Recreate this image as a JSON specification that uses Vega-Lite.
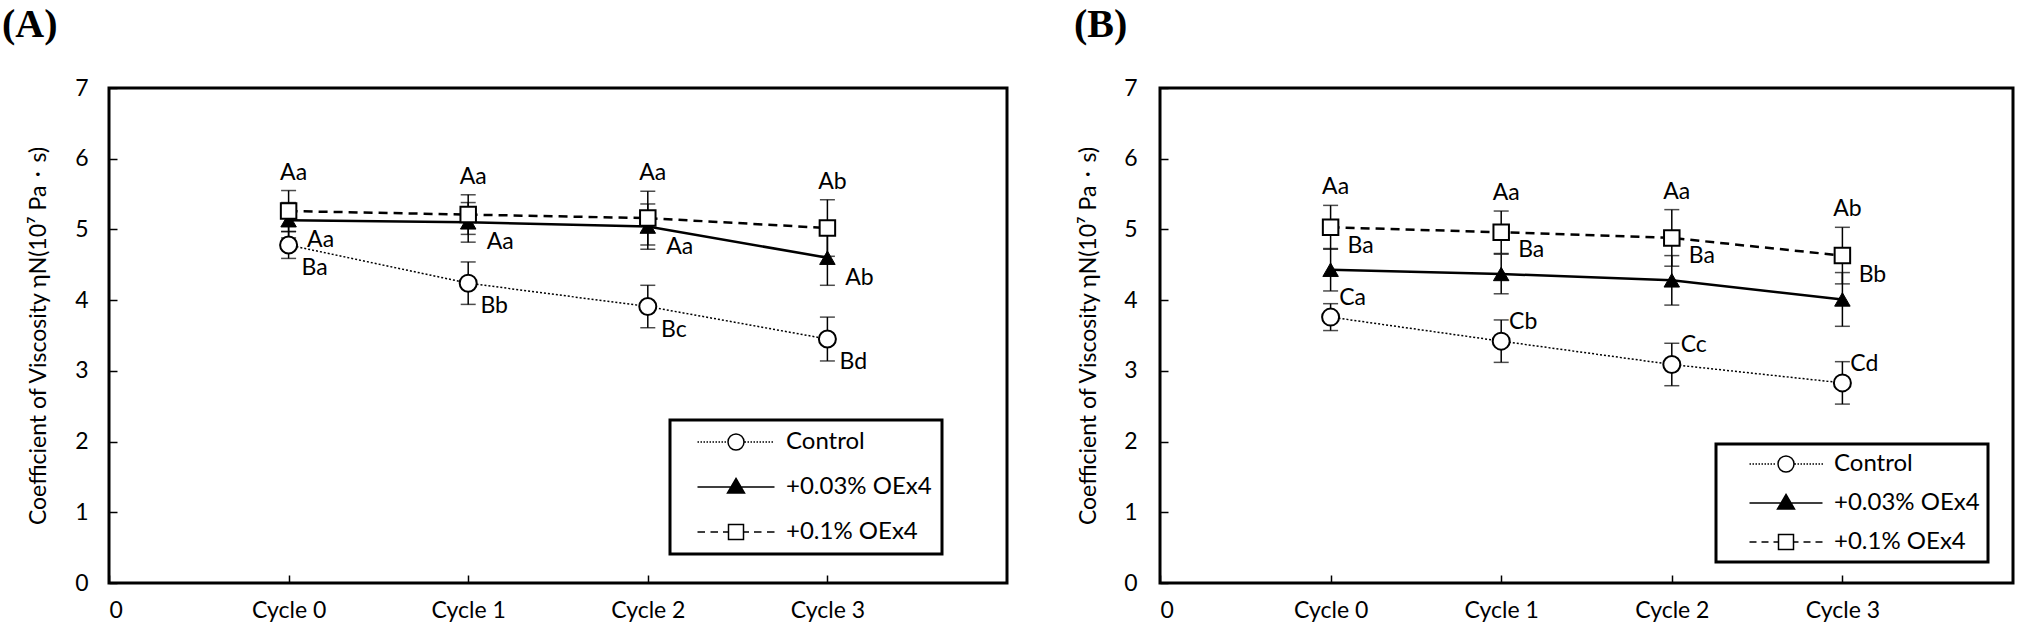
{
  "$schema": "https://vega.github.io/schema/vega-lite/v6.json",
  "autosize": {"type": "pad"},
  "padding": {"top": 3, "left": 0, "right": 0, "bottom": 0},
  "background": "white",
  "spacing": 63,
  "resolve": {"scale": {"shape": "independent", "fill": "independent", "stroke": "independent"}, "legend": {"shape": "independent", "fill": "independent", "stroke": "independent"}},
  "config": {
    "view": {"stroke": "black", "strokeWidth": 3},
    "axis": {"labelFont": "Lato", "labelFontSize": 23, "labelColor": "black", "titleFont": "Lato", "titleFontSize": 23, "titleColor": "black", "titleFontWeight": "normal", "grid": false, "domain": false},
    "legend": {"symbolStrokeColor": "black", "symbolStrokeWidth": 1.5, "strokeWidth": 3, "strokeColor": "black"}
  },
  "datasets": {
    "A": [
      {"cycle": 0, "series": "Control", "mean": 4.78, "lo": 4.59, "hi": 4.97, "label": "Ba"},
      {"cycle": 1, "series": "Control", "mean": 4.24, "lo": 3.94, "hi": 4.54, "label": "Bb"},
      {"cycle": 2, "series": "Control", "mean": 3.91, "lo": 3.61, "hi": 4.21, "label": "Bc"},
      {"cycle": 3, "series": "Control", "mean": 3.45, "lo": 3.14, "hi": 3.76, "label": "Bd"},
      {"cycle": 0, "series": "+0.03% OEx4", "mean": 5.13, "lo": 4.88, "hi": 5.38, "label": "Aa"},
      {"cycle": 1, "series": "+0.03% OEx4", "mean": 5.10, "lo": 4.82, "hi": 5.38, "label": "Aa"},
      {"cycle": 2, "series": "+0.03% OEx4", "mean": 5.04, "lo": 4.72, "hi": 5.36, "label": "Aa"},
      {"cycle": 3, "series": "+0.03% OEx4", "mean": 4.60, "lo": 4.21, "hi": 4.99, "label": "Ab"},
      {"cycle": 0, "series": "+0.1% OEx4", "mean": 5.26, "lo": 4.97, "hi": 5.55, "label": "Aa"},
      {"cycle": 1, "series": "+0.1% OEx4", "mean": 5.21, "lo": 4.93, "hi": 5.49, "label": "Aa"},
      {"cycle": 2, "series": "+0.1% OEx4", "mean": 5.16, "lo": 4.78, "hi": 5.54, "label": "Aa"},
      {"cycle": 3, "series": "+0.1% OEx4", "mean": 5.02, "lo": 4.62, "hi": 5.42, "label": "Ab"}
    ],
    "B": [
      {"cycle": 0, "series": "Control", "mean": 3.76, "lo": 3.57, "hi": 3.95, "label": "Ca"},
      {"cycle": 1, "series": "Control", "mean": 3.42, "lo": 3.12, "hi": 3.72, "label": "Cb"},
      {"cycle": 2, "series": "Control", "mean": 3.09, "lo": 2.79, "hi": 3.39, "label": "Cc"},
      {"cycle": 3, "series": "Control", "mean": 2.83, "lo": 2.53, "hi": 3.13, "label": "Cd"},
      {"cycle": 0, "series": "+0.03% OEx4", "mean": 4.43, "lo": 4.13, "hi": 4.73, "label": "Ba"},
      {"cycle": 1, "series": "+0.03% OEx4", "mean": 4.37, "lo": 4.09, "hi": 4.65, "label": "Ba"},
      {"cycle": 2, "series": "+0.03% OEx4", "mean": 4.28, "lo": 3.93, "hi": 4.63, "label": "Ba"},
      {"cycle": 3, "series": "+0.03% OEx4", "mean": 4.01, "lo": 3.63, "hi": 4.39, "label": "Bb"},
      {"cycle": 0, "series": "+0.1% OEx4", "mean": 5.03, "lo": 4.72, "hi": 5.34, "label": "Aa"},
      {"cycle": 1, "series": "+0.1% OEx4", "mean": 4.96, "lo": 4.66, "hi": 5.26, "label": "Aa"},
      {"cycle": 2, "series": "+0.1% OEx4", "mean": 4.88, "lo": 4.48, "hi": 5.28, "label": "Aa"},
      {"cycle": 3, "series": "+0.1% OEx4", "mean": 4.63, "lo": 4.23, "hi": 5.03, "label": "Ab"}
    ]
  },
  "hconcat": [
    {
      "width": 898,
      "height": 495,
      "title": {"text": "(A)", "font": "Liberation Serif", "fontSize": 40, "fontWeight": "bold", "color": "black", "anchor": "start", "frame": "group", "dx": -107, "baseline": "top", "offset": 32},
      "data": {"name": "A"},
      "encoding": {
        "x": {"field": "cycle", "type": "quantitative", "scale": {"domain": [-1, 4], "nice": false, "zero": false},
          "axis": {"values": [-1, 0, 1, 2, 3], "labelExpr": "datum.value < 0 ? '0' : 'Cycle ' + datum.value", "title": null, "ticks": true, "tickSize": -8, "tickColor": "black", "tickWidth": 1.5, "labelPadding": 24}},
        "y": {"field": "mean", "type": "quantitative", "scale": {"domain": [0, 7], "nice": false},
          "axis": {"values": [0, 1, 2, 3, 4, 5, 6, 7], "ticks": true, "tickSize": -8, "tickColor": "black", "tickWidth": 1.5, "labelPadding": 29, "title": "Coefficient of Viscosity ηN(10⁷ Pa・s)", "titlePadding": 24}}
      },
      "layer": [
        {"mark": {"type": "rule", "color": "black", "strokeWidth": 1.5}, "encoding": {"y": {"field": "lo", "type": "quantitative"}, "y2": {"field": "hi"}}},
        {"mark": {"type": "tick", "orient": "horizontal", "size": 15, "thickness": 1.5, "color": "black"}, "encoding": {"y": {"field": "lo", "type": "quantitative"}}},
        {"mark": {"type": "tick", "orient": "horizontal", "size": 15, "thickness": 1.5, "color": "black"}, "encoding": {"y": {"field": "hi", "type": "quantitative"}}},
        {"transform": [{"filter": {"field": "series", "equal": "Control"}}], "mark": {"type": "line", "color": "black", "strokeWidth": 1.5, "strokeDash": [2, 2]}},
        {"transform": [{"filter": {"field": "series", "equal": "+0.03% OEx4"}}], "mark": {"type": "line", "color": "black", "strokeWidth": 2.5}},
        {"transform": [{"filter": {"field": "series", "equal": "+0.1% OEx4"}}], "mark": {"type": "line", "color": "black", "strokeWidth": 2.5, "strokeDash": [9, 6]}},
        {"transform": [{"filter": {"field": "series", "equal": "Control"}}], "mark": {"type": "point", "shape": "circle", "filled": true, "fill": "white", "stroke": "black", "strokeWidth": 2, "size": 289, "opacity": 1}},
        {"transform": [{"filter": {"field": "series", "equal": "+0.03% OEx4"}}], "mark": {"type": "point", "shape": "triangle-up", "filled": true, "fill": "black", "stroke": "black", "strokeWidth": 1, "size": 240, "opacity": 1}},
        {"transform": [{"filter": {"field": "series", "equal": "+0.1% OEx4"}}], "mark": {"type": "point", "shape": "square", "filled": true, "fill": "white", "stroke": "black", "strokeWidth": 2, "size": 240, "opacity": 1}},
        {"transform": [{"filter": {"field": "series", "equal": "Control"}}], "mark": {"type": "text", "font": "Lato", "fontSize": 23, "color": "black", "align": "center", "baseline": "middle", "dx": 26, "dy": 23}, "encoding": {"text": {"field": "label"}}},
        {"transform": [{"filter": {"field": "series", "equal": "+0.03% OEx4"}}], "mark": {"type": "text", "font": "Lato", "fontSize": 23, "color": "black", "align": "center", "baseline": "middle", "dx": 32, "dy": 20}, "encoding": {"text": {"field": "label"}}},
        {"transform": [{"filter": {"field": "series", "equal": "+0.1% OEx4"}}], "mark": {"type": "text", "font": "Lato", "fontSize": 23, "color": "black", "align": "center", "baseline": "middle", "dx": 5, "dy": -18}, "encoding": {"y": {"field": "hi", "type": "quantitative"}, "text": {"field": "label"}}},
        {"transform": [{"filter": {"field": "series", "equal": "__none__"}}],
          "mark": {"type": "point", "filled": true, "strokeWidth": 1.5, "opacity": 1},
          "encoding": {
            "shape": {"field": "series", "type": "nominal",
              "scale": {"domain": ["Control", "+0.03% OEx4", "+0.1% OEx4"],
                "range": [
                  "M-3.85,0h0.15M-3.55,0h0.15M-3.25,0h0.15M-2.95,0h0.15M-2.65,0h0.15M-2.35,0h0.15M-2.05,0h0.15M-1.75,0h0.15M-1.45,0h0.15M-1.15,0h0.15M0.85,0h0.15M1.15,0h0.15M1.45,0h0.15M1.75,0h0.15M2.05,0h0.15M2.35,0h0.15M2.65,0h0.15M2.95,0h0.15M3.25,0h0.15M3.55,0h0.15M0.8,0A0.8,0.8,0,1,1,-0.8,0A0.8,0.8,0,1,1,0.8,0Z",
                  "M-3.85,0H3.85M0,-0.85L0.85,0.6L-0.85,0.6Z",
                  "M-3.85,0H-3.1M-2.55,0H-1.8M-1.3,0H-0.75M0.75,0H1.3M1.8,0H2.55M3.1,0H3.85M-0.75,-0.75H0.75V0.75H-0.75Z"
                ]},
              "legend": {"title": null, "orient": "none", "legendX": 561, "legendY": 332, "symbolSize": 400, "symbolOffset": 44, "symbolStrokeWidth": 1.5, "symbolStrokeColor": "black", "labelFont": "Lato", "labelFontSize": 24, "labelColor": "black", "labelOffset": 38, "padding": 10, "rowPadding": 21, "strokeColor": "black", "fillColor": "white", "encode": {"legend": {"strokeWidth": {"value": 3}}, "symbols": {"stroke": {"value": "black"}, "strokeWidth": {"value": 1.5}}}}},
            "fill": {"field": "series", "type": "nominal",
              "scale": {"domain": ["Control", "+0.03% OEx4", "+0.1% OEx4"], "range": ["white", "black", "white"]},
              "legend": {"title": null, "orient": "none", "legendX": 561, "legendY": 332, "symbolSize": 400, "symbolOffset": 44, "symbolStrokeWidth": 1.5, "symbolStrokeColor": "black", "labelFont": "Lato", "labelFontSize": 24, "labelColor": "black", "labelOffset": 38, "padding": 10, "rowPadding": 21, "strokeColor": "black", "fillColor": "white", "encode": {"legend": {"strokeWidth": {"value": 3}}, "symbols": {"stroke": {"value": "black"}, "strokeWidth": {"value": 1.5}}}}},
            "stroke": {"field": "series", "type": "nominal",
              "scale": {"domain": ["Control", "+0.03% OEx4", "+0.1% OEx4"], "range": ["black", "black", "black"]},
              "legend": {"title": null, "orient": "none", "legendX": 561, "legendY": 332, "symbolSize": 400, "symbolOffset": 44, "symbolStrokeWidth": 1.5, "symbolStrokeColor": "black", "labelFont": "Lato", "labelFontSize": 24, "labelColor": "black", "labelOffset": 38, "padding": 10, "rowPadding": 21, "strokeColor": "black", "fillColor": "white", "encode": {"legend": {"strokeWidth": {"value": 3}}, "symbols": {"stroke": {"value": "black"}, "strokeWidth": {"value": 1.5}}}}}
          }}
      ]
    },
    {
      "width": 853,
      "height": 495,
      "title": {"text": "(B)", "font": "Liberation Serif", "fontSize": 40, "fontWeight": "bold", "color": "black", "anchor": "start", "frame": "group", "dx": -86, "baseline": "top", "offset": 32},
      "data": {"name": "B"},
      "encoding": {
        "x": {"field": "cycle", "type": "quantitative", "scale": {"domain": [-1, 4], "nice": false, "zero": false},
          "axis": {"values": [-1, 0, 1, 2, 3], "labelExpr": "datum.value < 0 ? '0' : 'Cycle ' + datum.value", "title": null, "ticks": true, "tickSize": -8, "tickColor": "black", "tickWidth": 1.5, "labelPadding": 24}},
        "y": {"field": "mean", "type": "quantitative", "scale": {"domain": [0, 7], "nice": false},
          "axis": {"values": [0, 1, 2, 3, 4, 5, 6, 7], "ticks": true, "tickSize": -8, "tickColor": "black", "tickWidth": 1.5, "labelPadding": 31, "title": "Coefficient of Viscosity ηN(10⁷ Pa・s)", "titlePadding": 23}}
      },
      "layer": [
        {"mark": {"type": "rule", "color": "black", "strokeWidth": 1.5}, "encoding": {"y": {"field": "lo", "type": "quantitative"}, "y2": {"field": "hi"}}},
        {"mark": {"type": "tick", "orient": "horizontal", "size": 15, "thickness": 1.5, "color": "black"}, "encoding": {"y": {"field": "lo", "type": "quantitative"}}},
        {"mark": {"type": "tick", "orient": "horizontal", "size": 15, "thickness": 1.5, "color": "black"}, "encoding": {"y": {"field": "hi", "type": "quantitative"}}},
        {"transform": [{"filter": {"field": "series", "equal": "Control"}}], "mark": {"type": "line", "color": "black", "strokeWidth": 1.5, "strokeDash": [2, 2]}},
        {"transform": [{"filter": {"field": "series", "equal": "+0.03% OEx4"}}], "mark": {"type": "line", "color": "black", "strokeWidth": 2.5}},
        {"transform": [{"filter": {"field": "series", "equal": "+0.1% OEx4"}}], "mark": {"type": "line", "color": "black", "strokeWidth": 2.5, "strokeDash": [9, 6]}},
        {"transform": [{"filter": {"field": "series", "equal": "Control"}}], "mark": {"type": "point", "shape": "circle", "filled": true, "fill": "white", "stroke": "black", "strokeWidth": 2, "size": 289, "opacity": 1}},
        {"transform": [{"filter": {"field": "series", "equal": "+0.03% OEx4"}}], "mark": {"type": "point", "shape": "triangle-up", "filled": true, "fill": "black", "stroke": "black", "strokeWidth": 1, "size": 240, "opacity": 1}},
        {"transform": [{"filter": {"field": "series", "equal": "+0.1% OEx4"}}], "mark": {"type": "point", "shape": "square", "filled": true, "fill": "white", "stroke": "black", "strokeWidth": 2, "size": 240, "opacity": 1}},
        {"transform": [{"filter": {"field": "series", "equal": "Control"}}], "mark": {"type": "text", "font": "Lato", "fontSize": 23, "color": "black", "align": "center", "baseline": "middle", "dx": 22, "dy": -19}, "encoding": {"text": {"field": "label"}}},
        {"transform": [{"filter": {"field": "series", "equal": "+0.03% OEx4"}}], "mark": {"type": "text", "font": "Lato", "fontSize": 23, "color": "black", "align": "center", "baseline": "middle", "dx": 30, "dy": -24}, "encoding": {"text": {"field": "label"}}},
        {"transform": [{"filter": {"field": "series", "equal": "+0.1% OEx4"}}], "mark": {"type": "text", "font": "Lato", "fontSize": 23, "color": "black", "align": "center", "baseline": "middle", "dx": 5, "dy": -18}, "encoding": {"y": {"field": "hi", "type": "quantitative"}, "text": {"field": "label"}}},
        {"transform": [{"filter": {"field": "series", "equal": "__none__"}}],
          "mark": {"type": "point", "filled": true, "strokeWidth": 1.5, "opacity": 1},
          "encoding": {
            "shape": {"field": "series", "type": "nominal",
              "scale": {"domain": ["Control", "+0.03% OEx4", "+0.1% OEx4"],
                "range": [
                  "M-3.65,0h0.15M-3.35,0h0.15M-3.05,0h0.15M-2.75,0h0.15M-2.45,0h0.15M-2.15,0h0.15M-1.85,0h0.15M-1.55,0h0.15M-1.25,0h0.15M0.85,0h0.15M1.15,0h0.15M1.45,0h0.15M1.75,0h0.15M2.05,0h0.15M2.35,0h0.15M2.65,0h0.15M2.95,0h0.15M3.25,0h0.15M3.55,0h0.15M0.8,0A0.8,0.8,0,1,1,-0.8,0A0.8,0.8,0,1,1,0.8,0Z",
                  "M-3.65,0H3.65M0,-0.85L0.85,0.6L-0.85,0.6Z",
                  "M-3.65,0H-2.95M-2.45,0H-1.75M-1.25,0H-0.75M0.75,0H1.25M1.75,0H2.45M2.95,0H3.65M-0.75,-0.75H0.75V0.75H-0.75Z"
                ]},
              "legend": {"title": null, "orient": "none", "legendX": 556, "legendY": 356, "symbolSize": 400, "symbolOffset": 50, "symbolStrokeWidth": 1.5, "symbolStrokeColor": "black", "labelFont": "Lato", "labelFontSize": 24, "labelColor": "black", "labelOffset": 36, "padding": 8, "rowPadding": 15, "strokeColor": "black", "fillColor": "white", "encode": {"legend": {"strokeWidth": {"value": 3}}, "symbols": {"stroke": {"value": "black"}, "strokeWidth": {"value": 1.5}}}}},
            "fill": {"field": "series", "type": "nominal",
              "scale": {"domain": ["Control", "+0.03% OEx4", "+0.1% OEx4"], "range": ["white", "black", "white"]},
              "legend": {"title": null, "orient": "none", "legendX": 556, "legendY": 356, "symbolSize": 400, "symbolOffset": 50, "symbolStrokeWidth": 1.5, "symbolStrokeColor": "black", "labelFont": "Lato", "labelFontSize": 24, "labelColor": "black", "labelOffset": 36, "padding": 8, "rowPadding": 15, "strokeColor": "black", "fillColor": "white", "encode": {"legend": {"strokeWidth": {"value": 3}}, "symbols": {"stroke": {"value": "black"}, "strokeWidth": {"value": 1.5}}}}},
            "stroke": {"field": "series", "type": "nominal",
              "scale": {"domain": ["Control", "+0.03% OEx4", "+0.1% OEx4"], "range": ["black", "black", "black"]},
              "legend": {"title": null, "orient": "none", "legendX": 556, "legendY": 356, "symbolSize": 400, "symbolOffset": 50, "symbolStrokeWidth": 1.5, "symbolStrokeColor": "black", "labelFont": "Lato", "labelFontSize": 24, "labelColor": "black", "labelOffset": 36, "padding": 8, "rowPadding": 15, "strokeColor": "black", "fillColor": "white", "encode": {"legend": {"strokeWidth": {"value": 3}}, "symbols": {"stroke": {"value": "black"}, "strokeWidth": {"value": 1.5}}}}}
          }}
      ]
    }
  ]
}
